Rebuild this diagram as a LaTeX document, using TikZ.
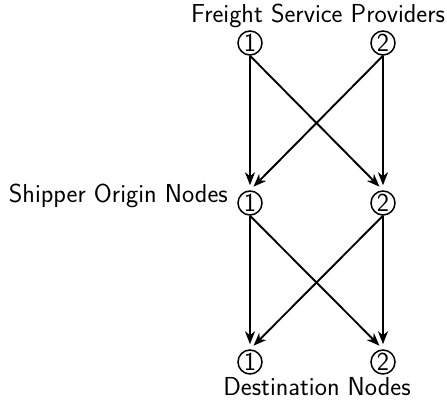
\documentclass[tikz,border=0pt]{standalone}
\usetikzlibrary{arrows.meta}
\begin{document}
\begin{tikzpicture}[x=1pt,y=1pt,
  font=\sffamily\fontsize{26}{30}\selectfont,
  num/.style={circle,draw,line width=1.5pt,minimum size=24pt,inner sep=0pt},
  lab/.style={inner sep=0pt},
  conn/.style={line width=1.9pt,-{Stealth[length=13pt,width=10pt,inset=4pt]},shorten >=5pt}]
\useasboundingbox (0,0) rectangle (447,399);
\node[num] (t1) at (250,356) {1};
\node[num] (t2) at (383,356) {2};
\node[num] (m1) at (250,196) {1};
\node[num] (m2) at (383,196) {2};
\node[num] (b1) at (250,37) {1};
\node[num] (b2) at (383,37) {2};
\node[lab,anchor=base] (tl) at (318,376.5) {Freight Service Providers};
\node[lab,anchor=base east] (ml) at (228,196) {Shipper Origin Nodes};
\node[lab,anchor=base,text height=18pt,text depth=0pt] (bl) at (317,4) {Destination Nodes};
\draw[conn] (t1.south) -- (m1.north);
\draw[conn] (t1.south) -- (m2.north);
\draw[conn] (t2.south) -- (m1.north);
\draw[conn] (t2.south) -- (m2.north);
\draw[conn] (m1.south) -- (b1.north);
\draw[conn] (m1.south) -- (b2.north);
\draw[conn] (m2.south) -- (b1.north);
\draw[conn] (m2.south) -- (b2.north);
\end{tikzpicture}
\end{document}
